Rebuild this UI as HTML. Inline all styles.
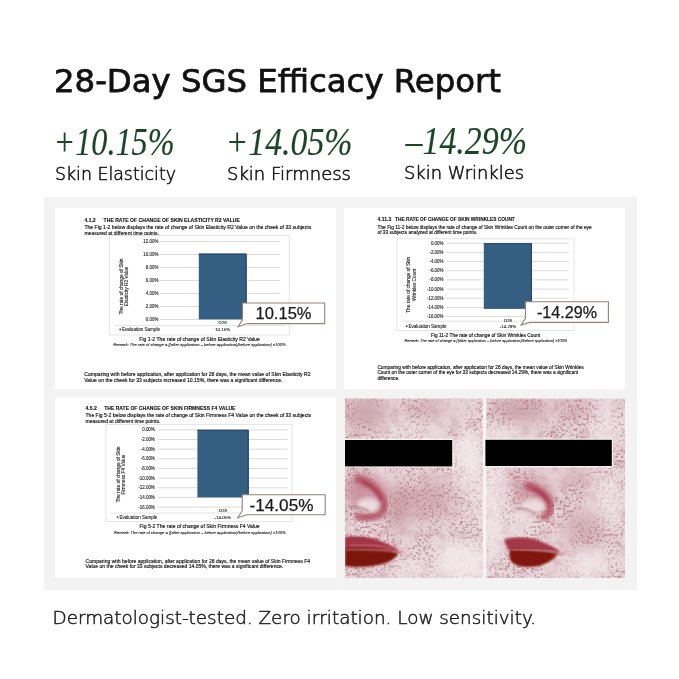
<!DOCTYPE html>
<html><head><meta charset="utf-8"><title>28-Day SGS Efficacy Report</title>
<style>
*{margin:0;padding:0;box-sizing:border-box}
html,body{width:679px;height:679px;background:#fff;overflow:hidden}
body{position:relative}
svg{position:absolute;left:0;top:0;display:block;will-change:transform}
text{font-family:"Liberation Sans",Arial,sans-serif;fill:#151515;stroke:#151515;stroke-width:0.16}
text.b{font-weight:bold;fill:#111;stroke:#111;stroke-width:0.1}
text.t{fill:#2a2a2a;stroke:#2a2a2a;stroke-width:0.12}
text.i{font-style:italic;fill:#222;stroke:#222;stroke-width:0.1}
text.c{fill:#1a1a1a;stroke:#1a1a1a;stroke-width:0.25}
text.ttl{font-family:"DejaVu Sans",sans-serif;fill:#111;stroke:#111;stroke-width:0.75}
text.pct{font-family:"Liberation Serif",serif;font-style:italic;fill:#1a4527;stroke:#1a4527;stroke-width:0.15}
text.lbl{font-family:"DejaVu Sans",sans-serif;font-weight:200;fill:#151515;stroke:#151515;stroke-width:0.55}
text.ft{font-family:"DejaVu Sans",sans-serif;font-weight:200;fill:#1e1e1e;stroke:#1e1e1e;stroke-width:0.5}
</style></head><body>
<svg width="679" height="679" viewBox="0 0 679 679">
<text x="54" y="91.6" font-size="32" textLength="447" lengthAdjust="spacingAndGlyphs" class="ttl">28-Day SGS Efficacy Report</text>
<text x="53.5" y="155" font-size="40" textLength="121" lengthAdjust="spacingAndGlyphs" class="pct">+10.15%</text>
<text x="225.5" y="155" font-size="40" textLength="127" lengthAdjust="spacingAndGlyphs" class="pct">+14.05%</text>
<text x="405.5" y="153.5" font-size="40" textLength="121.5" lengthAdjust="spacingAndGlyphs" class="pct">&#8211;14.29%</text>
<text x="55" y="180.3" font-size="17.5" textLength="121" lengthAdjust="spacingAndGlyphs" class="lbl">Skin Elasticity</text>
<text x="227" y="180.3" font-size="17.5" textLength="124" lengthAdjust="spacingAndGlyphs" class="lbl">Skin Firmness</text>
<text x="404" y="178.5" font-size="17.5" textLength="120" lengthAdjust="spacingAndGlyphs" class="lbl">Skin Wrinkles</text>
<rect x="44" y="197" width="593" height="393" fill="#f3f3f3"/>
<rect x="55" y="208" width="281" height="181" fill="#fff"/>
<rect x="344" y="208" width="281" height="181" fill="#fff"/>
<rect x="55" y="397" width="281" height="181" fill="#fff"/>
<text x="84.4" y="221.5" font-size="5.08" class="b">4.1.2</text>
<text x="103.6" y="221.5" font-size="5.08" textLength="136.3" lengthAdjust="spacingAndGlyphs" class="b">THE RATE OF CHANGE OF SKIN ELASTICITY R2 VALUE</text>
<text x="84.4" y="229.1" font-size="5.08" textLength="226.8" lengthAdjust="spacingAndGlyphs">The Fig 1-2 below displays the rate of change of Skin Elasticity R2 Value on the cheek of 33 subjects</text>
<text x="84.4" y="235.0" font-size="5.08" textLength="74.6" lengthAdjust="spacingAndGlyphs">measured at different time points.</text>
<rect x="109.3" y="235.5" width="180.0" height="99.5" fill="none" stroke="#e2e2e2" stroke-width="0.9"/>
<line x1="160" y1="241.5" x2="280.2" y2="241.5" stroke="#d6d6d6" stroke-width="0.9"/>
<text x="158.4" y="243.1" font-size="4.45" text-anchor="end" class="t">12.00%</text>
<line x1="160" y1="254.5" x2="280.2" y2="254.5" stroke="#d6d6d6" stroke-width="0.9"/>
<text x="158.4" y="256.1" font-size="4.45" text-anchor="end" class="t">10.00%</text>
<line x1="160" y1="267.5" x2="280.2" y2="267.5" stroke="#d6d6d6" stroke-width="0.9"/>
<text x="158.4" y="269.1" font-size="4.45" text-anchor="end" class="t">8.00%</text>
<line x1="160" y1="280.5" x2="280.2" y2="280.5" stroke="#d6d6d6" stroke-width="0.9"/>
<text x="158.4" y="282.1" font-size="4.45" text-anchor="end" class="t">6.00%</text>
<line x1="160" y1="293.5" x2="280.2" y2="293.5" stroke="#d6d6d6" stroke-width="0.9"/>
<text x="158.4" y="295.1" font-size="4.45" text-anchor="end" class="t">4.00%</text>
<line x1="160" y1="306.5" x2="280.2" y2="306.5" stroke="#d6d6d6" stroke-width="0.9"/>
<text x="158.4" y="308.1" font-size="4.45" text-anchor="end" class="t">2.00%</text>
<line x1="160" y1="319.5" x2="280.2" y2="319.5" stroke="#d6d6d6" stroke-width="0.9"/>
<text x="158.4" y="321.1" font-size="4.45" text-anchor="end" class="t">0.00%</text>
<rect x="198.8" y="253.6" width="47.89999999999998" height="65.79999999999998" fill="#355f82"/>
<path d="M198.8,254.1 H246.1 V319.4" fill="none" stroke="#22435f" stroke-width="1"/>
<g transform="translate(122.6,286.5) rotate(-90)"><text x="0" y="0" font-size="4.8" textLength="56" lengthAdjust="spacingAndGlyphs" text-anchor="middle" class="t">The rate of change of Skin</text><text x="0" y="5.6" font-size="4.8" textLength="39.5" lengthAdjust="spacingAndGlyphs" text-anchor="middle" class="t">Elasticity R2 Value</text></g>
<line x1="114.3" y1="325.6" x2="285.3" y2="325.6" stroke="#dadada" stroke-width="0.8"/>
<circle cx="120.2" cy="329.4" r="0.9" fill="#333"/>
<text x="122" y="331" font-size="4.7" textLength="38" lengthAdjust="spacingAndGlyphs" class="t">Evaluation Sample</text>
<text x="222.6" y="324.4" font-size="4.4" text-anchor="middle" class="t">D28</text>
<text x="222.6" y="331" font-size="4.4" text-anchor="middle" class="t">10.15%</text>
<text x="139.3" y="340.8" font-size="5.08" textLength="120.5" lengthAdjust="spacingAndGlyphs">Fig 1-2 The rate of change of Skin Elasticity R2 Value</text>
<text x="113.3" y="345.9" font-size="4.05" textLength="172.3" lengthAdjust="spacingAndGlyphs" class="i">Remark: The rate of change = [(after application &#8211; before application)/before application] &#215;100%</text>
<text x="84.3" y="376.1" font-size="5.08" textLength="226.3" lengthAdjust="spacingAndGlyphs">Comparing with before application, after application for 28 days, the mean value of Skin Elasticity R2</text>
<text x="84.3" y="381.6" font-size="5.08" textLength="198.2" lengthAdjust="spacingAndGlyphs">Value on the cheek for 33 subjects increased 10.15%, there was a significant difference.</text>
<path d="M242.5,303 H324.7 V323.6 H247.0 L238.2,326.8 L242.5,319.6 Z" fill="#fff" stroke="#95807a" stroke-width="1.1"/>
<text x="255.5" y="318.7" font-size="16.5" textLength="56" lengthAdjust="spacingAndGlyphs" class="c">10.15%</text>
<text x="377.5" y="221.4" font-size="5.08" class="b">4.11.3</text>
<text x="395" y="221.4" font-size="5.08" textLength="119.8" lengthAdjust="spacingAndGlyphs" class="b">THE RATE OF CHANGE OF SKIN WRINKLES COUNT</text>
<text x="377.5" y="228.5" font-size="5.08" textLength="214.2" lengthAdjust="spacingAndGlyphs">The Fig 11-2 below displays the rate of change of Skin Wrinkles Count on the outer corner of the eye</text>
<text x="377.5" y="234.3" font-size="5.08" textLength="99.8" lengthAdjust="spacingAndGlyphs">of 33 subjects analyzed at different time points.</text>
<rect x="396.8" y="238.8" width="177.2" height="91.80000000000001" fill="none" stroke="#e2e2e2" stroke-width="0.9"/>
<line x1="447" y1="243.2" x2="568.7" y2="243.2" stroke="#d6d6d6" stroke-width="0.9"/>
<text x="443.5" y="244.79999999999998" font-size="4.45" text-anchor="end" class="t">0.00%</text>
<line x1="447" y1="252.36999999999998" x2="568.7" y2="252.36999999999998" stroke="#d6d6d6" stroke-width="0.9"/>
<text x="443.5" y="253.96999999999997" font-size="4.45" text-anchor="end" class="t">-2.00%</text>
<line x1="447" y1="261.53999999999996" x2="568.7" y2="261.53999999999996" stroke="#d6d6d6" stroke-width="0.9"/>
<text x="443.5" y="263.14" font-size="4.45" text-anchor="end" class="t">-4.00%</text>
<line x1="447" y1="270.71" x2="568.7" y2="270.71" stroke="#d6d6d6" stroke-width="0.9"/>
<text x="443.5" y="272.31" font-size="4.45" text-anchor="end" class="t">-6.00%</text>
<line x1="447" y1="279.88" x2="568.7" y2="279.88" stroke="#d6d6d6" stroke-width="0.9"/>
<text x="443.5" y="281.48" font-size="4.45" text-anchor="end" class="t">-8.00%</text>
<line x1="447" y1="289.05" x2="568.7" y2="289.05" stroke="#d6d6d6" stroke-width="0.9"/>
<text x="443.5" y="290.65000000000003" font-size="4.45" text-anchor="end" class="t">-10.00%</text>
<line x1="447" y1="298.21999999999997" x2="568.7" y2="298.21999999999997" stroke="#d6d6d6" stroke-width="0.9"/>
<text x="443.5" y="299.82" font-size="4.45" text-anchor="end" class="t">-12.00%</text>
<line x1="447" y1="307.39" x2="568.7" y2="307.39" stroke="#d6d6d6" stroke-width="0.9"/>
<text x="443.5" y="308.99" font-size="4.45" text-anchor="end" class="t">-14.00%</text>
<line x1="447" y1="316.56" x2="568.7" y2="316.56" stroke="#d6d6d6" stroke-width="0.9"/>
<text x="443.5" y="318.16" font-size="4.45" text-anchor="end" class="t">-16.00%</text>
<rect x="483.8" y="243.2" width="48.19999999999999" height="65.69999999999999" fill="#355f82"/>
<path d="M483.8,243.7 H531.4 V308.9" fill="none" stroke="#22435f" stroke-width="1"/>
<g transform="translate(410,284.8) rotate(-90)"><text x="0" y="0" font-size="4.8" textLength="56" lengthAdjust="spacingAndGlyphs" text-anchor="middle" class="t">The rate of change of Skin</text><text x="0" y="5.6" font-size="4.8" textLength="32.5" lengthAdjust="spacingAndGlyphs" text-anchor="middle" class="t">Wrinkles Count</text></g>
<line x1="401.8" y1="321.2" x2="570" y2="321.2" stroke="#dadada" stroke-width="0.8"/>
<circle cx="406.7" cy="326.2" r="0.9" fill="#333"/>
<text x="408.5" y="327.8" font-size="4.7" textLength="38" lengthAdjust="spacingAndGlyphs" class="t">Evaluation Sample</text>
<text x="508" y="321.9" font-size="4.4" text-anchor="middle" class="t">D28</text>
<text x="508" y="327.8" font-size="4.4" text-anchor="middle" class="t">-14.29%</text>
<text x="430.9" y="336.8" font-size="5.08" textLength="109.3" lengthAdjust="spacingAndGlyphs">Fig 11-2 The rate of change of Skin Wrinkles Count</text>
<text x="404.5" y="342" font-size="4.05" textLength="162.7" lengthAdjust="spacingAndGlyphs" class="i">Remark: The rate of change = [(after application &#8211; before application)/before application] &#215;100%</text>
<text x="377.4" y="368.6" font-size="5.08" textLength="206.2" lengthAdjust="spacingAndGlyphs">Comparing with before application, after application for 28 days, the mean value of Skin Wrinkles</text>
<text x="377.4" y="374.1" font-size="5.08" textLength="200.8" lengthAdjust="spacingAndGlyphs">Count on the outer corner of the eye for 33 subjects decreased 14.29%, there was a significant</text>
<text x="377.4" y="379.6" font-size="5.08" textLength="22" lengthAdjust="spacingAndGlyphs">difference.</text>
<path d="M525.4,301.7 H608.4 V322.4 H529.9 L521.2,325 L525.4,318.4 Z" fill="#fff" stroke="#95807a" stroke-width="1.1"/>
<text x="537" y="317.6" font-size="16" textLength="60" lengthAdjust="spacingAndGlyphs" class="c">-14.29%</text>
<text x="85.5" y="409.7" font-size="5.08" class="b">4.5.2</text>
<text x="104.2" y="409.7" font-size="5.08" textLength="131.3" lengthAdjust="spacingAndGlyphs" class="b">THE RATE OF CHANGE OF SKIN FIRMNESS F4 VALUE</text>
<text x="85.5" y="417.3" font-size="5.08" textLength="225.6" lengthAdjust="spacingAndGlyphs">The Fig 5-2 below displays the rate of change of Skin Firmness F4 Value on the cheek of 33 subjects</text>
<text x="85.5" y="423.0" font-size="5.08" textLength="74.9" lengthAdjust="spacingAndGlyphs">measured at different time points.</text>
<rect x="105.9" y="424.4" width="186.1" height="97.20000000000005" fill="none" stroke="#e2e2e2" stroke-width="0.9"/>
<line x1="158.3" y1="429.8" x2="287.9" y2="429.8" stroke="#d6d6d6" stroke-width="0.9"/>
<text x="154.8" y="431.40000000000003" font-size="4.45" text-anchor="end" class="t">0.00%</text>
<line x1="158.3" y1="439.46000000000004" x2="287.9" y2="439.46000000000004" stroke="#d6d6d6" stroke-width="0.9"/>
<text x="154.8" y="441.06000000000006" font-size="4.45" text-anchor="end" class="t">-2.00%</text>
<line x1="158.3" y1="449.12" x2="287.9" y2="449.12" stroke="#d6d6d6" stroke-width="0.9"/>
<text x="154.8" y="450.72" font-size="4.45" text-anchor="end" class="t">-4.00%</text>
<line x1="158.3" y1="458.78000000000003" x2="287.9" y2="458.78000000000003" stroke="#d6d6d6" stroke-width="0.9"/>
<text x="154.8" y="460.38000000000005" font-size="4.45" text-anchor="end" class="t">-6.00%</text>
<line x1="158.3" y1="468.44" x2="287.9" y2="468.44" stroke="#d6d6d6" stroke-width="0.9"/>
<text x="154.8" y="470.04" font-size="4.45" text-anchor="end" class="t">-8.00%</text>
<line x1="158.3" y1="478.1" x2="287.9" y2="478.1" stroke="#d6d6d6" stroke-width="0.9"/>
<text x="154.8" y="479.70000000000005" font-size="4.45" text-anchor="end" class="t">-10.00%</text>
<line x1="158.3" y1="487.76" x2="287.9" y2="487.76" stroke="#d6d6d6" stroke-width="0.9"/>
<text x="154.8" y="489.36" font-size="4.45" text-anchor="end" class="t">-12.00%</text>
<line x1="158.3" y1="497.42" x2="287.9" y2="497.42" stroke="#d6d6d6" stroke-width="0.9"/>
<text x="154.8" y="499.02000000000004" font-size="4.45" text-anchor="end" class="t">-14.00%</text>
<line x1="158.3" y1="507.08000000000004" x2="287.9" y2="507.08000000000004" stroke="#d6d6d6" stroke-width="0.9"/>
<text x="154.8" y="508.68000000000006" font-size="4.45" text-anchor="end" class="t">-16.00%</text>
<rect x="197.4" y="429.8" width="51.400000000000006" height="67.59999999999997" fill="#355f82"/>
<path d="M197.4,430.3 H248.20000000000002 V497.4" fill="none" stroke="#22435f" stroke-width="1"/>
<g transform="translate(119.5,474.5) rotate(-90)"><text x="0" y="0" font-size="4.8" textLength="56" lengthAdjust="spacingAndGlyphs" text-anchor="middle" class="t">The rate of change of Skin</text><text x="0" y="5.6" font-size="4.8" textLength="40" lengthAdjust="spacingAndGlyphs" text-anchor="middle" class="t">Firmness F4 Value</text></g>
<line x1="110.9" y1="513" x2="288" y2="513" stroke="#dadada" stroke-width="0.8"/>
<circle cx="117.60000000000001" cy="517.1" r="0.9" fill="#333"/>
<text x="119.4" y="518.7" font-size="4.7" textLength="38" lengthAdjust="spacingAndGlyphs" class="t">Evaluation Sample</text>
<text x="222.8" y="512" font-size="4.4" text-anchor="middle" class="t">D28</text>
<text x="222.8" y="518.7" font-size="4.4" text-anchor="middle" class="t">-14.05%</text>
<text x="139.5" y="528.3" font-size="5.08" textLength="120.2" lengthAdjust="spacingAndGlyphs">Fig 5-2 The rate of change of Skin Firmness F4 Value</text>
<text x="114.1" y="533.7" font-size="4.05" textLength="171.4" lengthAdjust="spacingAndGlyphs" class="i">Remark: The rate of change = [(after application &#8211; before application)/before application] &#215;100%</text>
<text x="85.6" y="562.6999999999999" font-size="5.08" textLength="224.5" lengthAdjust="spacingAndGlyphs">Comparing with before application, after application for 28 days, the mean value of Skin Firmness F4</text>
<text x="85.6" y="568.3" font-size="5.08" textLength="197.6" lengthAdjust="spacingAndGlyphs">Value on the cheek for 33 subjects decreased 14.05%, there was a significant difference.</text>
<path d="M242.2,494.7 H325.2 V514.7 H246.7 L237.8,517.8 L242.2,510.70000000000005 Z" fill="#fff" stroke="#95807a" stroke-width="1.1"/>
<text x="249.5" y="510.8" font-size="16.5" textLength="64" lengthAdjust="spacingAndGlyphs" class="c">-14.05%</text>
<defs>
<clipPath id="cpL"><rect x="345" y="397" width="137.5" height="181"/></clipPath>
<clipPath id="cpR"><rect x="486.5" y="397" width="138.5" height="181"/></clipPath>
<filter id="spk" x="0" y="0" width="100%" height="100%">
 <feTurbulence type="fractalNoise" baseFrequency="0.38" numOctaves="2" seed="11" result="f"/>
 <feColorMatrix in="f" type="matrix" values="0 0 0 0 0.5  0 0 0 0 0.24  0 0 0 0 0.27  -9 0 0 0 4.2" result="fa"/>
 <feTurbulence type="fractalNoise" baseFrequency="0.035" numOctaves="2" seed="2" result="m"/>
 <feColorMatrix in="m" type="matrix" values="0 0 0 0 0  0 0 0 0 0  0 0 0 0 0  4 0 0 0 -1.3" result="ma"/>
 <feComposite in="fa" in2="ma" operator="in"/>
 <feGaussianBlur stdDeviation="0.6"/>
</filter>
<filter id="spk2" x="0" y="0" width="100%" height="100%">
 <feTurbulence type="fractalNoise" baseFrequency="0.1" numOctaves="3" seed="5" result="n"/>
 <feColorMatrix in="n" type="matrix" values="0 0 0 0 0.62  0 0 0 0 0.4  0 0 0 0 0.44  -4 0 0 0 2.1"/>
 <feGaussianBlur stdDeviation="0.6"/>
</filter>
<filter id="mot" x="0" y="0" width="100%" height="100%">
 <feTurbulence type="fractalNoise" baseFrequency="0.03" numOctaves="2" seed="3" result="n"/>
 <feColorMatrix in="n" type="matrix" values="0 0 0 0 0.97  0 0 0 0 0.94  0 0 0 0 0.95  2.6 0 0 0 -1.0"/>
</filter>
<filter id="b1"><feGaussianBlur stdDeviation="1"/></filter>
<filter id="b2"><feGaussianBlur stdDeviation="2.2"/></filter>
<filter id="b4"><feGaussianBlur stdDeviation="5"/></filter>
<filter id="b8" x="-50%" y="-50%" width="200%" height="200%"><feGaussianBlur stdDeviation="8"/></filter>
</defs>
<rect x="345" y="397" width="280" height="181" fill="#f6f1f2"/>
<g clip-path="url(#cpL)">
 <rect x="345" y="397" width="138" height="181" fill="#e6d4d8"/>
 <g filter="url(#b8)">
  <ellipse cx="365" cy="413" rx="22" ry="16" fill="#cfa7ae"/>
  <ellipse cx="425" cy="410" rx="22" ry="10" fill="#d5b2b8"/>
  <ellipse cx="398" cy="505" rx="12" ry="26" fill="#cc9ea6"/>
  <ellipse cx="430" cy="500" rx="22" ry="20" fill="#d4b0b6"/>
  <ellipse cx="360" cy="490" rx="14" ry="20" fill="#cfa3ab"/>
 </g>
 <rect x="345" y="397" width="138" height="181" filter="url(#spk2)" opacity="0.55"/>
 <rect x="345" y="397" width="138" height="181" filter="url(#spk)" opacity="0.85"/>
 <g filter="url(#b8)" opacity="0.8">
  <ellipse cx="468" cy="455" rx="14" ry="26" fill="#f7f1f2"/>
  <ellipse cx="415" cy="430" rx="32" ry="6" fill="#f3eaec"/>
  <ellipse cx="395" cy="474" rx="18" ry="5" fill="#f3e9eb"/>
  <ellipse cx="462" cy="562" rx="28" ry="22" fill="#f5eef0"/>
  <ellipse cx="410" cy="568" rx="18" ry="10" fill="#f2e8ea"/>
  <ellipse cx="478" cy="500" rx="6" ry="30" fill="#f5eef0"/>
 </g>
 <ellipse cx="368" cy="492" rx="20" ry="16" fill="#c98a98" filter="url(#b4)" opacity="0.6"/>
 <path d="M355,478 C368,481 380,490 384,502 C386,510 381,515 372,517 C366,518 360,517 355,516" fill="none" stroke="#a83a4e" stroke-width="7.5" filter="url(#b2)" opacity="0.75"/>
 <path d="M362,482 C372,486 379,493 381,500" fill="none" stroke="#a83450" stroke-width="2.5" filter="url(#b1)" opacity="0.7"/>
 <ellipse cx="368" cy="505" rx="11" ry="7" fill="#efe4e7" filter="url(#b2)" opacity="0.85"/>
 <path d="M348,506.5 C356,506 362,508 369,511" fill="none" stroke="#9e6470" stroke-width="1.3" filter="url(#b1)"/>
 <path d="M345,537 C352,535.5 362,536 372,538.5 C382,541 392,545 399,551 C390,550.5 370,549.5 345,549.5 Z" fill="#a33646" filter="url(#b1)"/>
 <path d="M350,545 C362,544 378,545 392,549" fill="none" stroke="#d88a90" stroke-width="1.2" filter="url(#b1)" opacity="0.7"/>
 <path d="M345,548.5 C365,548 384,549 396,551 C399,553 397,557 392,560 C385,564 375,566.5 362,567 C354,567.2 348,566.5 345,566 Z" fill="#7c130b" filter="url(#b1)"/>
 <path d="M393,551 L403,553.5" stroke="#c26a70" stroke-width="3" filter="url(#b2)"/>
 <path d="M346,549.5 C365,549 383,550 396,552" fill="none" stroke="#e9b8bc" stroke-width="1" filter="url(#b1)" opacity="0.8"/>
 <path d="M345,538.5 C355,536.5 368,537.5 380,541" fill="none" stroke="#9a3040" stroke-width="1.6" filter="url(#b1)" opacity="0.6"/>
</g>
<g clip-path="url(#cpR)">
 <rect x="486" y="397" width="139" height="181" fill="#e6d4d8"/>
 <g filter="url(#b8)">
  <ellipse cx="520" cy="410" rx="28" ry="14" fill="#d0a9b0"/>
  <ellipse cx="575" cy="408" rx="20" ry="10" fill="#d5b2b8"/>
  <ellipse cx="525" cy="482" rx="16" ry="8" fill="#d0a6ad"/>
  <ellipse cx="575" cy="480" rx="16" ry="8" fill="#d2abb2"/>
  <ellipse cx="585" cy="530" rx="22" ry="20" fill="#d5b3b9"/>
 </g>
 <rect x="486" y="397" width="139" height="181" filter="url(#spk2)" opacity="0.55"/>
 <rect x="486" y="397" width="139" height="181" filter="url(#spk)" opacity="0.85"/>
 <g filter="url(#b8)" opacity="0.8">
  <ellipse cx="492" cy="500" rx="8" ry="80" fill="#f7f2f3"/>
  <ellipse cx="505" cy="432" rx="18" ry="6" fill="#f5eef0"/>
  <ellipse cx="605" cy="430" rx="18" ry="8" fill="#f5eef0"/>
  <ellipse cx="608" cy="408" rx="14" ry="8" fill="#f2e8ea"/>
  <ellipse cx="610" cy="500" rx="12" ry="30" fill="#f2e9eb"/>
  <ellipse cx="520" cy="522" rx="16" ry="10" fill="#f2e8ea"/>
  <ellipse cx="590" cy="565" rx="24" ry="14" fill="#f3ebed"/>
 </g>
 <ellipse cx="535" cy="496" rx="20" ry="15" fill="#c98a98" filter="url(#b4)" opacity="0.6"/>
 <path d="M525,485 C537,488 547,495 550,504 C552,511 548,516 541,518" fill="none" stroke="#a83a4e" stroke-width="7.5" filter="url(#b2)" opacity="0.75"/>
 <path d="M533,489 C541,492 546,497 548,503" fill="none" stroke="#a63050" stroke-width="2.5" filter="url(#b1)" opacity="0.75"/>
 <ellipse cx="533" cy="506" rx="12" ry="7" fill="#efe4e7" filter="url(#b2)" opacity="0.85"/>
 <path d="M517,508.5 C524,508 530,510 536,514" fill="none" stroke="#9e6470" stroke-width="1.3" filter="url(#b1)"/>
 <path d="M504,540 C512,537.5 522,537 532,539 C543,541.5 553,546 561,552 C545,551 525,550 508,549.5 Z" fill="#a33848" filter="url(#b1)"/>
 <path d="M510,549.3 C525,549.5 545,550.5 558,552.5 C556,558 548,564 536,566.5 C524,568 514,566 511,561 C509,557 509,552 510,549.3 Z" fill="#80140b" filter="url(#b1)"/>
 <path d="M553,553 L564,555" stroke="#c26a70" stroke-width="3" filter="url(#b2)"/>
 <path d="M512,549.5 C528,549.2 545,550.3 556,552.3" fill="none" stroke="#e9b8bc" stroke-width="1" filter="url(#b1)" opacity="0.8"/>
 <path d="M505,539.5 C515,537 528,537.5 540,540.5" fill="none" stroke="#9a3040" stroke-width="1.6" filter="url(#b1)" opacity="0.6"/>
</g>
<rect x="345" y="397" width="280" height="1.6" fill="#f6f1f2"/>
<rect x="344" y="438.5" width="109.5" height="29" fill="#fbf7f8" opacity="0.8"/>
<rect x="484" y="438.5" width="129" height="29" fill="#fbf7f8" opacity="0.8"/>
<rect x="345" y="440" width="107.2" height="26.4" fill="#000"/>
<rect x="485.4" y="439.8" width="126.4" height="26.2" fill="#000"/>

<text x="52.5" y="623.9" font-size="18" textLength="483.5" lengthAdjust="spacingAndGlyphs" class="ft">Dermatologist-tested. Zero irritation. Low sensitivity.</text>
</svg>
</body></html>
